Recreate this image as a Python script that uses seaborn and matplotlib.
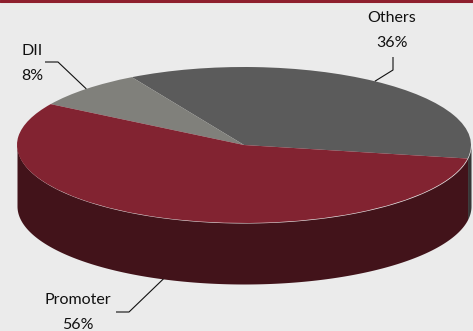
import numpy as np
import matplotlib
matplotlib.use("Agg")
import matplotlib.pyplot as plt
import seaborn as sns
from matplotlib.lines import Line2D

# ---- data ----
categories = ["Others", "DII", "Promoter"]
shares = [36, 8, 56]
pct_labels = ["36%", "8%", "56%"]

sns.set_theme(style="white")
plt.rcParams["font.family"] = ["Lato", "DejaVu Sans"]

top_colors = ["#5b5b5b", "#80807b", "#822331"]
side_colors = ["#363636", "#4e4e4b", "#42131a"]
bg = "#ebebeb"

W, H = 473, 331
fig = plt.figure(figsize=(W / 100, H / 100), dpi=100, facecolor=bg)
ax = fig.add_axes([0, 0, 1, 1])
ax.set_facecolor(bg)

# geometry (pixels): ellipse centre, radii, depth
cx, cy, rx, ry = 244, 145, 227, 78
depth = 61 / ry
start = -10.0

def px(xp, yp):
    return (xp - cx) / rx, (cy - yp) / ry

# top face via pie
wedges, _ = ax.pie(shares, colors=top_colors, startangle=start, counterclock=True,
                   radius=1, center=(0, 0), frame=True,
                   wedgeprops=dict(linewidth=0, zorder=3))
ax.set_aspect("auto")

# side walls from data angles
fr = np.array(shares) / np.sum(shares)
edges = start + 360 * np.concatenate([[0], np.cumsum(fr)])
for i in range(len(shares)):
    a0, a1 = edges[i], edges[i + 1]
    for off in (-360, 0, 360):
        lo, hi = max(a0 + off, 180), min(a1 + off, 360)
        if hi > lo:
            t = np.radians(np.linspace(lo, hi, 200))
            x = np.cos(t)
            y = np.sin(t)
            ax.fill_between(x, y - depth, y, color=side_colors[i], linewidth=0, zorder=1)

x0, _ = px(0, 0)
x1, _ = px(W, 0)
_, y1 = px(0, 0)
_, y0 = px(0, H)
ax.set_xlim(x0, x1)
ax.set_ylim(y0, y1)
ax.axis("off")

# labels and leader lines
mids = edges[:-1] + 360 * fr / 2
label_pos = {"Others": (392, 18), "DII": (32, 51), "Promoter": (78, 300)}
elbows = {"Others": [(393, 57), (393, 70)],
          "DII": [(45, 62), (58, 62)],
          "Promoter": [(116, 312), (129, 312)]}
for i, name in enumerate(categories):
    m = np.radians(mids[i])
    ax_x, ax_y = np.cos(m), np.sin(m)
    if np.sin(m) < 0:
        ax_y -= depth
    pts = [px(*p) for p in elbows[name]] + [(ax_x, ax_y)]
    ax.plot([p[0] for p in pts], [p[1] for p in pts], color="#111111", lw=0.8, zorder=5,
            solid_capstyle="butt")
    lx, ly = label_pos[name]
    ax.text(*px(lx, ly), name, ha="center", va="center", fontsize=11.5, color="#111111", zorder=6)
    ax.text(*px(lx, ly + 25), pct_labels[i], ha="center", va="center", fontsize=11.5,
            color="#111111", zorder=6)

# top border
fig.add_artist(Line2D([0, 1], [1 - 1 / H, 1 - 1 / H], transform=fig.transFigure,
                      color="#8e1f2e", lw=2.2))

fig.savefig("out.png", dpi=100, facecolor=bg)
